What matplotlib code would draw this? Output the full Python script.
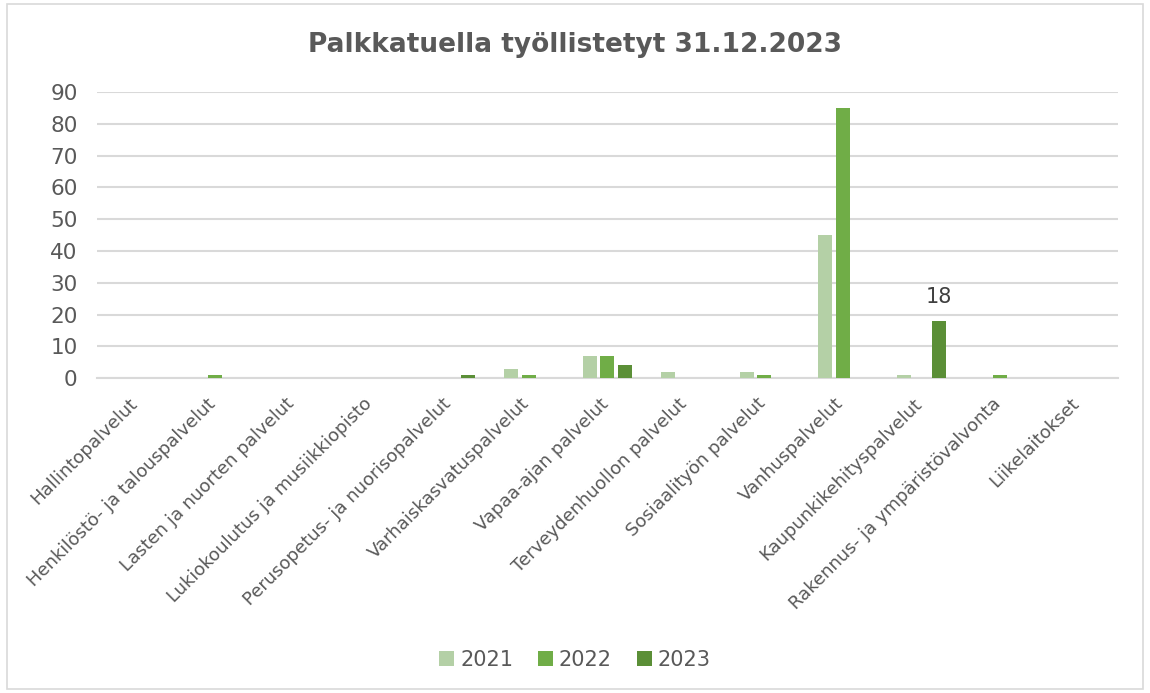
import numpy as np
import matplotlib.pyplot as plt
from matplotlib.patches import Rectangle
from matplotlib.transforms import ScaledTranslation

categories = ['Hallintopalvelut', 'Henkilöstö- ja talouspalvelut',
              'Lasten ja nuorten palvelut', 'Lukiokoulutus ja musiikkiopisto',
              'Perusopetus- ja nuorisopalvelut', 'Varhaiskasvatuspalvelut',
              'Vapaa-ajan palvelut', 'Terveydenhuollon palvelut',
              'Sosiaalityön palvelut', 'Vanhuspalvelut',
              'Kaupunkikehityspalvelut', 'Rakennus- ja ympäristövalvonta',
              'Liikelaitokset']
years = ['2021', '2022', '2023']
v2021 = [0, 0, 0, 0, 0, 3, 7, 2, 2, 45, 1, 0, 0]
v2022 = [0, 1, 0, 0, 0, 1, 7, 0, 1, 85, 0, 1, 0]
v2023 = [0, 0, 0, 0, 1, 0, 4, 0, 0, 0, 18, 0, 0]

colors = ['#B4D0A6', '#70AD47', '#5B8F37']
text_col = '#595959'
grid_col = '#D9D9D9'

fig = plt.figure(figsize=(11.5, 6.93), dpi=100)
fig.patches.append(Rectangle((0.006, 0.006), 0.988, 0.988, transform=fig.transFigure,
                             fill=False, edgecolor=grid_col, linewidth=1.2))

ax = fig.add_axes([0.0843, 0.4545, 0.8877, 0.4125])
x = np.arange(len(categories))
width = 0.18
step = 0.225
for i, (vals, yr) in enumerate(zip([v2021, v2022, v2023], years)):
    ax.bar(x + (i - 1) * step, vals, width, color=colors[i], label=yr, zorder=3)

# value label on the 2023 Kaupunkikehityspalvelut bar
k = categories.index('Kaupunkikehityspalvelut')
ax.text(x[k] + step, v2023[k] + 4.5, str(v2023[k]), ha='center', va='bottom',
        fontsize=15, color='#404040')

ax.set_xlim(-0.5, len(categories) - 0.5)
ax.set_ylim(0, 90)
ax.set_yticks(range(0, 91, 10))
ax.yaxis.grid(True, color=grid_col, linewidth=1.5, zorder=0)
for s in ['top', 'right', 'left']:
    ax.spines[s].set_visible(False)
ax.spines['bottom'].set_color(grid_col)
ax.spines['bottom'].set_linewidth(1.5)
ax.spines['bottom'].set_zorder(2)
ax.tick_params(axis='both', length=0, colors=text_col)
ax.tick_params(axis='y', labelsize=15.5, pad=14)
ax.set_xticks(x)
ax.set_xticklabels(categories, rotation=45, ha='right', rotation_mode='anchor',
                   fontsize=13, color=text_col)
ax.tick_params(axis='x', pad=12)
shift = ScaledTranslation(-6 / 72, 0, fig.dpi_scale_trans)
for lbl in ax.get_xticklabels():
    lbl.set_transform(lbl.get_transform() + shift)

fig.text(0.5, 0.935, 'Palkkatuella työllistetyt 31.12.2023', ha='center', va='center',
         fontsize=19, fontweight='bold', color=text_col)

fig.legend(loc='center', bbox_to_anchor=(0.5, 0.048), ncol=3, frameon=False,
           fontsize=15, labelcolor=text_col, handlelength=0.7, handleheight=0.7,
           handletextpad=0.3, columnspacing=1.2)

fig.savefig('out.png', dpi=100)
